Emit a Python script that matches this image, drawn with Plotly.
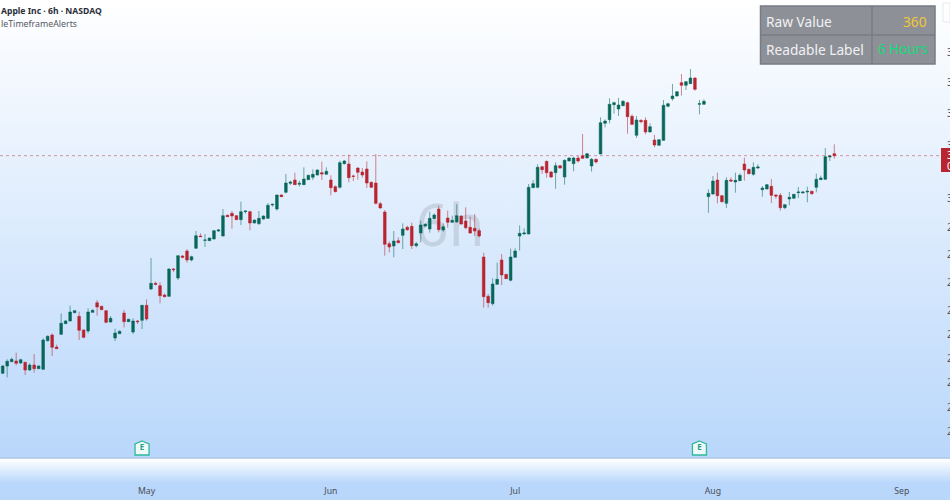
import base64
import plotly.graph_objects as go

# 6h candles
opens = [252.0, 254.2, 255.5, 255.7, 255.1, 255.3, 253.0, 254.5, 253.4, 253.2,
         261.8, 263.5, 259.9, 263.7, 266.9, 267.7, 270.2, 269.1, 265.0, 264.7,
         270.3, 273.2, 272.1, 270.8, 267.4, 262.6, 263.9, 270.1, 267.5, 264.4,
         267.7, 267.9, 272.4, 277.3, 279.0, 278.3, 275.5, 275.1, 283.3, 280.6,
         287.2, 288.7, 286.0, 289.5, 293.2, 291.9, 291.8, 292.3, 294.7, 293.2,
         299.4, 300.0, 299.3, 298.1, 300.5, 300.5, 297.1, 296.9, 298.3, 298.5,
         302.5, 301.3, 305.5, 306.3, 309.0, 310.0, 308.7, 308.6, 310.1, 310.8,
         311.5, 312.2, 311.7, 310.0, 308.0, 307.8, 314.9, 314.8, 311.2, 313.6,
         312.4, 313.3, 309.3, 309.1, 302.9, 300.4, 290.9, 290.2, 291.8, 293.4,
         295.8, 296.1, 290.3, 294.1, 296.2, 295.3, 298.4, 301.3, 295.0, 298.6,
         297.3, 297.4, 299.2, 297.7, 295.8, 295.5, 294.8, 286.9, 275.1, 272.9,
         278.7, 286.0, 281.7, 279.9, 286.8, 293.2, 293.8, 293.8, 307.7, 307.8,
         314.0, 315.6, 312.4, 312.2, 314.3, 310.9, 315.7, 314.9, 316.6, 317.3,
         316.6, 314.2, 316.2, 317.8, 327.0, 328.1, 332.6, 331.3, 332.3, 333.2,
         329.1, 323.4, 327.9, 327.9, 324.4, 322.0, 320.4, 321.9, 332.1, 334.4,
         335.2, 339.2, 338.4, 338.9, 340.6, 332.7, 332.7, 305.0, 305.8, 310.0,
         305.3, 303.0, 310.0, 309.4, 309.8, 314.8, 313.2, 311.7, 313.6, 307.1,
         307.3, 308.1, 305.5, 305.4, 301.7, 304.3, 304.5, 306.2, 306.1, 306.4,
         306.6, 307.8, 310.1, 310.2, 316.9, 317.9]
highs = [254.5, 256.2, 256.7, 258.2, 256.4, 255.5, 255.0, 257.8, 254.4, 262.5,
         263.4, 264.0, 260.6, 270.0, 268.0, 272.3, 271.0, 270.5, 265.2, 271.5,
         271.2, 274.0, 272.3, 271.0, 269.2, 265.4, 264.9, 271.0, 268.4, 268.5,
         268.0, 272.5, 274.2, 286.6, 279.5, 279.3, 275.9, 283.5, 283.6, 287.4,
         287.5, 289.3, 287.3, 294.7, 294.0, 293.8, 292.7, 295.0, 295.3, 301.3,
         299.7, 300.7, 299.5, 303.5, 300.9, 300.8, 298.1, 300.7, 299.4, 303.1,
         302.9, 305.6, 305.7, 311.8, 309.8, 312.2, 309.8, 313.8, 311.6, 313.2,
         313.2, 315.5, 313.8, 311.4, 308.4, 315.8, 316.0, 317.6, 311.6, 313.8,
         313.6, 315.6, 309.5, 317.8, 303.4, 301.0, 291.6, 294.7, 292.8, 297.0,
         296.3, 297.2, 291.4, 297.8, 297.0, 300.5, 300.0, 302.3, 297.0, 300.8,
         299.3, 302.7, 299.4, 301.8, 299.0, 299.8, 295.4, 288.2, 275.8, 280.5,
         285.2, 287.8, 281.8, 289.4, 289.5, 296.4, 295.5, 308.8, 310.0, 314.7,
         314.2, 315.8, 312.7, 315.3, 314.5, 316.2, 316.8, 317.0, 317.2, 323.8,
         318.1, 316.6, 316.4, 328.8, 328.2, 334.5, 333.5, 334.6, 334.0, 333.5,
         329.7, 329.2, 328.2, 328.8, 327.0, 323.5, 322.2, 334.0, 333.2, 338.8,
         336.6, 341.8, 339.7, 343.3, 340.8, 334.0, 334.2, 307.2, 311.2, 312.2,
         305.5, 310.8, 310.8, 312.2, 312.0, 316.7, 313.4, 315.3, 314.7, 308.2,
         308.8, 310.3, 305.7, 306.1, 302.8, 306.4, 305.8, 307.9, 306.6, 308.0,
         306.8, 311.9, 311.3, 319.6, 317.4, 320.7]
lows = [251.8, 250.8, 255.4, 254.4, 254.8, 251.5, 252.7, 252.2, 253.3, 253.0,
        261.5, 257.2, 259.3, 263.5, 266.8, 267.6, 270.0, 262.0, 262.5, 264.0,
        270.2, 269.3, 271.0, 267.0, 267.2, 261.7, 263.8, 265.8, 267.4, 263.8,
        266.8, 265.3, 267.8, 277.0, 278.4, 273.0, 274.8, 274.9, 282.4, 280.0,
        286.5, 285.2, 285.6, 289.4, 292.9, 289.9, 291.7, 292.2, 294.4, 293.1,
        298.9, 295.4, 298.0, 296.5, 299.9, 294.9, 297.0, 296.5, 298.1, 298.3,
        302.0, 300.8, 304.9, 306.0, 308.5, 308.5, 308.0, 308.5, 310.0, 310.0,
        311.4, 310.0, 311.6, 305.4, 306.3, 307.4, 314.6, 309.3, 309.7, 310.1,
        310.7, 307.6, 307.6, 302.6, 301.4, 287.3, 288.3, 286.8, 291.0, 289.3,
        294.7, 289.3, 289.8, 291.3, 295.8, 294.2, 298.2, 294.3, 294.5, 295.7,
        297.2, 297.2, 296.6, 295.2, 293.9, 293.2, 292.8, 271.7, 271.7, 272.3,
        278.6, 278.5, 280.3, 279.6, 286.7, 288.8, 293.7, 293.7, 307.6, 307.5,
        311.8, 310.7, 310.6, 307.4, 313.4, 308.6, 315.6, 312.6, 315.2, 316.3,
        316.5, 312.5, 315.0, 317.7, 325.8, 327.0, 329.9, 329.2, 332.1, 323.9,
        326.4, 322.6, 327.0, 323.7, 324.3, 319.8, 320.3, 321.7, 331.8, 333.8,
        335.1, 335.3, 337.0, 338.8, 336.8, 329.7, 332.6, 300.2, 305.6, 303.0,
        303.2, 301.6, 309.4, 306.2, 309.7, 309.8, 311.7, 311.3, 313.3, 305.0,
        307.2, 303.1, 304.4, 300.8, 301.2, 302.4, 304.4, 304.6, 306.0, 303.3,
        305.6, 306.3, 310.0, 310.0, 315.7, 316.4]
closes = [254.2, 255.6, 256.2, 255.0, 256.1, 253.0, 254.5, 253.4, 254.2, 262.0,
          263.1, 259.8, 259.4, 267.0, 267.7, 270.4, 270.8, 264.9, 262.8, 270.4,
          270.9, 271.9, 271.1, 267.3, 268.5, 264.1, 264.6, 267.5, 268.2, 267.7,
          267.5, 272.4, 268.3, 279.0, 278.7, 275.3, 275.0, 283.3, 283.1, 287.3,
          286.8, 286.0, 287.0, 293.3, 293.0, 292.0, 292.6, 294.8, 295.0, 299.3,
          299.0, 299.2, 298.1, 300.5, 300.7, 297.1, 298.0, 298.5, 299.2, 302.4,
          302.7, 305.5, 305.0, 309.1, 309.4, 308.6, 309.0, 310.3, 311.4, 311.7,
          313.0, 311.8, 312.6, 307.7, 306.5, 315.2, 315.7, 310.7, 311.1, 312.3,
          311.5, 309.1, 307.8, 303.0, 301.6, 290.7, 289.9, 291.7, 291.2, 295.3,
          295.1, 290.3, 290.9, 296.5, 296.7, 298.5, 299.5, 295.1, 296.0, 297.3,
          297.9, 299.3, 296.8, 295.7, 294.1, 294.7, 293.2, 275.0, 273.2, 278.8,
          280.2, 281.5, 280.4, 286.9, 288.7, 294.0, 294.1, 307.8, 308.9, 313.8,
          313.1, 312.2, 310.9, 314.3, 313.6, 315.9, 316.6, 316.6, 315.7, 316.5,
          317.9, 316.2, 315.4, 327.2, 327.7, 332.7, 333.2, 332.5, 333.6, 329.0,
          326.7, 328.0, 327.5, 324.4, 326.0, 320.5, 322.1, 332.4, 332.9, 335.2,
          336.5, 338.4, 339.5, 340.6, 337.2, 332.9, 333.6, 306.0, 309.7, 305.3,
          303.5, 309.9, 309.7, 309.9, 311.4, 313.0, 311.9, 313.8, 313.9, 307.6,
          308.6, 305.4, 305.2, 301.7, 302.6, 304.8, 305.7, 306.4, 306.4, 306.6,
          305.9, 310.2, 310.6, 317.0, 317.2, 317.3]
bar_index = list(range(len(opens)))

month_labels = ['May', 'Jun', 'Jul', 'Aug', 'Sep']
month_bars = [32, 73, 114, 158, 200]
price_ticks = [348.4, 339.4, 330.1, 320.5, 304.6, 295.9, 287.8, 279.4, 271.0,
               263.8, 256.6, 249.4, 241.9, 234.7]
earnings_bars = [31, 155]
earnings_price = [229.6, 229.6]

FIG_W, FIG_H = 950, 500
PLOT_W, PLOT_H = 946, 458
GREEN = '#08675a'
RED = '#b8242f'


def px_x(v):
    return v / PLOT_W


def px_y(v):
    return 1 - v / PLOT_H


def background_image():
    # page colour, with the white band under the plot
    svg = f'''<svg xmlns="http://www.w3.org/2000/svg" width="{FIG_W}" height="{FIG_H}" preserveAspectRatio="none">
<defs><linearGradient id="g" x1="0" y1="0" x2="0" y2="1">
<stop offset="0" stop-color="#ffffff"/>
<stop offset="0.916" stop-color="#b9d7fb"/>
<stop offset="0.918" stop-color="#ffffff"/>
<stop offset="0.966" stop-color="#b9d7fb"/>
<stop offset="1" stop-color="#b9d7fb"/>
</linearGradient></defs>
<rect width="{FIG_W}" height="{FIG_H}" fill="url(#g)"/></svg>'''
    return 'data:image/svg+xml;base64,' + base64.b64encode(svg.encode()).decode()


fig = go.Figure()
fig.add_trace(go.Candlestick(
    x=bar_index, open=opens, high=highs, low=lows, close=closes,
    increasing=dict(line=dict(color='rgba(8,103,90,0.55)', width=1), fillcolor=GREEN),
    decreasing=dict(line=dict(color='rgba(184,36,47,0.55)', width=1), fillcolor=RED),
    whiskerwidth=0,
    showlegend=False,
))
fig.add_trace(go.Scatter(
    x=earnings_bars, y=earnings_price, mode='text',
    text=['<b>E</b>', '<b>E</b>'], textposition='middle center',
    textfont=dict(family='Noto Sans', size=8, color='#2a9d84'),
    showlegend=False,
))

shapes = [
    # watermark
    dict(type='rect', xref='paper', yref='paper', layer='below',
         x0=px_x(400), x1=px_x(500), y0=px_y(262), y1=px_y(192),
         line=dict(width=0), fillcolor='rgba(0,0,0,0)',
         label=dict(text='6h', textposition='middle center',
                    font=dict(family='Noto Sans', size=58, color='rgba(120,123,134,0.22)'))),
    # last price line
    dict(type='line', xref='paper', yref='y', x0=0, x1=px_x(941), y0=closes[-1], y1=closes[-1],
         line=dict(color='rgba(184,36,47,0.45)', width=1, dash='dot')),
    # bottom of the pane
    dict(type='line', xref='paper', yref='paper', x0=0, x1=FIG_W / PLOT_W, y0=0, y1=0,
         line=dict(color='#a5bcdb', width=1)),
    # price tag
    dict(type='rect', xref='paper', yref='paper', x0=px_x(941), x1=FIG_W / PLOT_W,
         y0=px_y(172), y1=px_y(148), line=dict(width=0), fillcolor=RED),
    # corner button
    dict(type='rect', xref='paper', yref='paper', x0=px_x(943), x1=FIG_W / PLOT_W,
         y0=px_y(22), y1=px_y(3), line=dict(color='#e3e9f2', width=1), fillcolor='rgba(255,255,255,0.6)'),
    # info table
    dict(type='rect', xref='paper', yref='paper', x0=px_x(760.5), x1=px_x(935), y0=px_y(64), y1=px_y(6),
         line=dict(color='#787b86', width=1.5), fillcolor='#8e9098'),
    dict(type='line', xref='paper', yref='paper', x0=px_x(872), x1=px_x(872), y0=px_y(64), y1=px_y(6),
         line=dict(color='#787b86', width=1.5)),
    dict(type='line', xref='paper', yref='paper', x0=px_x(760.5), x1=px_x(935), y0=px_y(35), y1=px_y(35),
         line=dict(color='#787b86', width=1.5)),
]

# earnings flags, house outline anchored on the bar
for bar, price in zip(earnings_bars, earnings_price):
    shapes.append(dict(type='path', xref='x', yref='y', layer='below',
                       xsizemode='pixel', ysizemode='pixel', xanchor=bar, yanchor=price,
                       path='M 0,7 L 7,4 L 7,-7 L -7,-7 L -7,4 Z',
                       line=dict(color='#2fb89a', width=1.3), fillcolor='#eef9f8'))


def note(text, x, y, size, color, anchor='left', family='Noto Sans'):
    return dict(text=text, xref='paper', yref='paper', x=px_x(x), y=px_y(y), xanchor=anchor,
                yanchor='middle', showarrow=False, align=anchor, borderpad=0,
                font=dict(family=family, size=size, color=color))


annotations = [
    note('<b>Apple Inc · 6h · NASDAQ</b>', 0, 11.5, 8.6, '#2a2e39'),
    note('leTimeframeAlerts', 0, 24, 8.8, '#555963'),
    note('Raw Value', 765, 21, 13.7, '#f0f1f3'),
    note('360', 928, 21, 13.7, '#f2c832', anchor='right'),
    note('Readable Label', 765, 49.5, 13.7, '#f0f1f3'),
    note('6 Hours', 929, 49.5, 13.5, '#0fdc78', anchor='right'),
    note('317.35', 946, 155, 10.5, '#ffffff'),
    note('04:12', 946, 166, 10.5, '#ffffff'),
]

fig.update_layout(
    width=FIG_W, height=FIG_H,
    margin=dict(l=0, r=FIG_W - PLOT_W, t=0, b=FIG_H - PLOT_H, pad=0),
    paper_bgcolor='#ffffff', plot_bgcolor='rgba(0,0,0,0)',
    font=dict(family='Noto Sans', color='#555963'),
    showlegend=False,
    boxgap=0.15,
    shapes=shapes,
    annotations=annotations,
    images=[dict(source=background_image(), xref='paper', yref='paper', x=0, y=1,
                 sizex=FIG_W / PLOT_W, sizey=FIG_H / PLOT_H, sizing='stretch',
                 xanchor='left', yanchor='top', layer='below')],
    xaxis=dict(range=[-0.6, 209.85], rangeslider=dict(visible=False), showgrid=False, zeroline=False,
               automargin=False, tickmode='array', tickvals=month_bars, ticktext=month_labels,
               ticks='outside', ticklen=25, tickcolor='rgba(0,0,0,0)',
               tickfont=dict(size=8.7, color='#4a4d57'), showline=False),
    yaxis=dict(range=[226.6, 364], side='right', showgrid=False, zeroline=False, automargin=False,
               tickmode='array', tickvals=price_ticks, tickformat='.2f',
               ticks='', tickfont=dict(size=10, color='#50535e'), showline=False),
)

# no page margin, the figure fills the whole window
fig.write_html("out.html", config={'displayModeBar': False},
               post_script="document.body.style.margin='0';document.body.style.overflow='hidden';")
